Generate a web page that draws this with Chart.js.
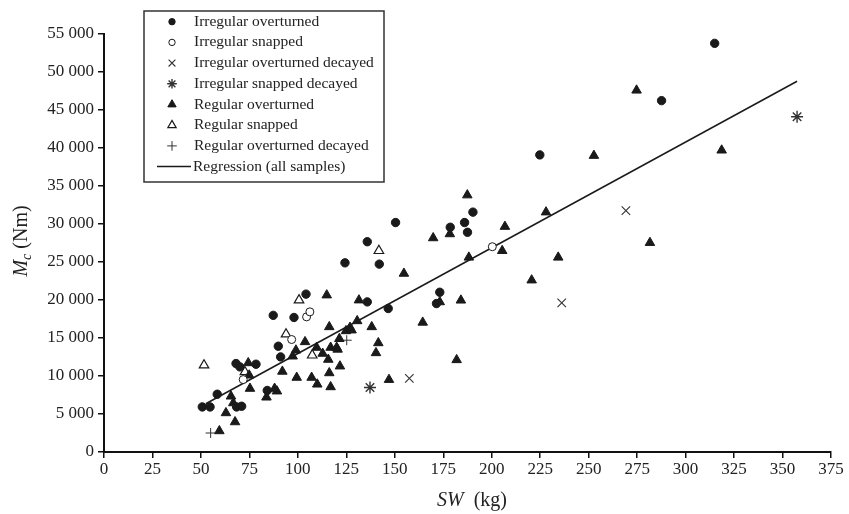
<!DOCTYPE html>
<html>
<head>
<meta charset="utf-8">
<script src="https://cdn.jsdelivr.net/npm/chart.js@4.4.1/dist/chart.umd.min.js"></script>
<style>
  html, body { margin: 0; padding: 0; background: #fff; }
  #wrap { width: 849px; height: 514px; }
</style>
</head>
<body>
<div id="wrap"><canvas id="mc"></canvas></div>
<script>
// ---- data: [SW (kg), Mc (Nm)] ----
const irregularOverturned = [
  [50.7, 5930], [54.7, 5930], [58.4, 7600], [68.1, 11640], [70.1, 11200], [78.4, 11550],
  [68.4, 5930], [71.0, 6020], [84.2, 8100], [87.3, 17980], [89.9, 13920], [91.1, 12510],
  [98.0, 17700], [104.2, 20770], [124.3, 24890], [135.8, 19750], [135.8, 27670],
  [142.0, 24720], [146.6, 18880], [150.4, 30190], [171.5, 19530], [173.2, 21020],
  [178.6, 29570], [186.0, 30190], [187.5, 28910], [190.3, 31560], [224.8, 39090],
  [287.6, 46230], [315.0, 53770]
];
const irregularSnapped = [
  [71.8, 9530], [96.8, 14800], [104.5, 17780], [106.2, 18440], [200.3, 27010]
];
const irregularOverturnedDecayed = [
  [157.5, 9690], [236.1, 19610], [269.2, 31770]
];
const irregularSnappedDecayed = [
  [137.2, 8480], [357.5, 44120]
];
const regularOverturned = [
  [59.5, 2770], [62.9, 5140], [67.6, 3950], [65.5, 7330], [66.7, 6450], [74.4, 11720],
  [74.9, 10100], [75.3, 8350], [83.8, 7200], [88.0, 8350], [89.2, 8000], [92.0, 10600],
  [99.4, 9800], [99.0, 13390], [97.3, 12600], [103.7, 14490], [107.1, 9800], [110.0, 8910],
  [109.7, 13750], [112.8, 12960], [115.7, 12170], [114.9, 20640], [116.2, 16460],
  [116.9, 13750], [120.0, 13750], [116.2, 10400], [116.9, 8560], [121.7, 11290],
  [121.4, 14900], [120.5, 13500], [124.8, 15930], [126.9, 16380], [127.7, 16030],
  [130.6, 17250], [131.5, 19980], [138.1, 16460], [141.5, 14350], [140.3, 13040],
  [147.0, 9520], [154.7, 23490], [164.4, 17050], [169.8, 28160], [173.2, 19740],
  [178.4, 28690], [181.9, 12120], [184.1, 19960], [187.4, 33800], [188.2, 25610],
  [205.4, 26480], [206.8, 29660], [220.6, 22610], [228.0, 31560], [234.3, 25610],
  [252.7, 39000], [274.7, 47590], [281.6, 27540], [318.6, 39700]
];
const regularSnapped = [
  [51.6, 11420], [72.7, 10530], [93.9, 15500], [100.6, 19980], [107.4, 12730], [141.8, 26480]
];
const regularOverturnedDecayed = [
  [55.0, 2500], [125.2, 14710]
];
// regression line end points
const regressionLine = [
  [52.5, 6350], [357.5, 48780]
];

const xTicksMax = 375;
const yTicksMax = 55000;

const INK = '#1a1a1a';
const SERIF = '"Liberation Serif", "Times New Roman", serif';

function pts(arr) {
  return arr.map(p => ({ x: p[0], y: p[1] }));
}

const datasets = [
  { label: 'Irregular overturned', data: pts(irregularOverturned), pointStyle: 'circle',
    pointRadius: 4.2, backgroundColor: INK, borderColor: INK, borderWidth: 1 },
  { label: 'Irregular snapped', data: pts(irregularSnapped), pointStyle: 'circle',
    pointRadius: 4, backgroundColor: '#fff', borderColor: INK, borderWidth: 1 },
  { label: 'Irregular overturned decayed', data: pts(irregularOverturnedDecayed), pointStyle: 'crossRot',
    pointRadius: 6, backgroundColor: INK, borderColor: '#333', borderWidth: 1.1 },
  { label: 'Irregular snapped decayed', data: pts(irregularSnappedDecayed), pointStyle: 'star',
    pointRadius: 6, backgroundColor: INK, borderColor: '#333', borderWidth: 1.4 },
  { label: 'Regular overturned', data: pts(regularOverturned), pointStyle: 'triangle',
    pointRadius: 5.5, backgroundColor: INK, borderColor: INK, borderWidth: 1 },
  { label: 'Regular snapped', data: pts(regularSnapped), pointStyle: 'triangle',
    pointRadius: 5.5, backgroundColor: '#fff', borderColor: INK, borderWidth: 1.2 },
  { label: 'Regular overturned decayed', data: pts(regularOverturnedDecayed), pointStyle: 'cross',
    pointRadius: 5, backgroundColor: INK, borderColor: '#333', borderWidth: 1 },
  { label: 'Regression (all samples)', type: 'line', data: pts(regressionLine), showLine: true,
    pointRadius: 0, borderColor: INK, borderWidth: 1.5, fill: false, isLine: true }
];

// legend box drawn inside the plot, as in the figure
const boxLegend = {
  id: 'boxLegend',
  afterDraw(chart) {
    const ctx = chart.ctx;
    ctx.save();
    ctx.strokeStyle = '#333';
    ctx.lineWidth = 1.5;
    ctx.fillStyle = '#fff';
    ctx.fillRect(144, 11, 240, 171);
    ctx.strokeRect(144, 11, 240, 171);
    ctx.font = '15.5px ' + SERIF;
    ctx.textBaseline = 'middle';
    chart.data.datasets.forEach((ds, i) => {
      const y = 21.7 + i * 20.7;
      ctx.fillStyle = ds.backgroundColor || INK;
      ctx.strokeStyle = ds.borderColor;
      ctx.lineWidth = ds.borderWidth;
      if (ds.isLine) {
        ctx.beginPath();
        ctx.moveTo(157, y);
        ctx.lineTo(191, y);
        ctx.stroke();
      } else {
        const r = ds.pointStyle === 'circle' ? 3.2 : 4.8;
        Chart.helpers.drawPoint(ctx, { pointStyle: ds.pointStyle, rotation: 0, radius: r, borderWidth: ds.borderWidth }, 172, y);
      }
      ctx.fillStyle = '#222';
      ctx.fillText(ds.label, ds.isLine ? 193 : 194, y);
    });
    ctx.restore();
  }
};

// axis titles with italic symbol and subscript
const axisTitles = {
  id: 'axisTitles',
  afterDraw(chart) {
    const ctx = chart.ctx;
    ctx.save();
    ctx.fillStyle = '#222';
    ctx.textBaseline = 'alphabetic';

    // x title: SW (kg)
    const big = '20px ' + SERIF;
    const bigIt = 'italic 20px ' + SERIF;
    ctx.font = bigIt;
    const wSW = ctx.measureText('SW').width;
    ctx.font = big;
    const wKg = ctx.measureText('  (kg)').width;
    let x0 = 472 - (wSW + wKg) / 2;
    ctx.font = bigIt;
    ctx.fillText('SW', x0, 506);
    ctx.font = big;
    ctx.fillText('  (kg)', x0 + wSW, 506);

    // y title: Mc (Nm), rotated
    ctx.translate(27, 241);
    ctx.rotate(-Math.PI / 2);
    ctx.font = bigIt;
    const wM = ctx.measureText('M').width;
    ctx.font = 'italic 14px ' + SERIF;
    const wc = ctx.measureText('c').width;
    ctx.font = big;
    const wN = ctx.measureText(' (Nm)').width;
    let s = -(wM + wc + wN) / 2;
    ctx.font = bigIt;
    ctx.fillText('M', s, 0);
    ctx.font = 'italic 14px ' + SERIF;
    ctx.fillText('c', s + wM, 4);
    ctx.font = big;
    ctx.fillText(' (Nm)', s + wM + wc, 0);
    ctx.restore();
  }
};

const ctx = document.getElementById('mc').getContext('2d');
const mcChart = new Chart(ctx, {
  type: 'scatter',
  data: { datasets: datasets },
  options: {
    responsive: true,
    maintainAspectRatio: false,
    animation: false,
    layout: { padding: { left: 0, right: 18, top: 34, bottom: 0 } },
    plugins: {
      legend: { display: false },
      tooltip: { enabled: false }
    },
    scales: {
      x: {
        type: 'linear',
        min: 0,
        max: xTicksMax,
        afterFit: s => { s.height = 62; },
        ticks: { stepSize: 25, color: '#222', padding: 1, maxRotation: 0,
                 font: { family: SERIF, size: 17 } },
        grid: { display: true, drawOnChartArea: false, drawTicks: true, tickLength: 6,
                color: '#111', lineWidth: 1.5 },
        border: { display: true, color: '#111', width: 2 }
      },
      y: {
        type: 'linear',
        min: 0,
        max: yTicksMax,
        afterFit: s => { s.width = 104; },
        ticks: { stepSize: 5000, color: '#222', padding: 4,
                 font: { family: SERIF, size: 17 },
                 callback: v => String(v).replace(/\B(?=(\d{3})+(?!\d))/g, ' ') },
        grid: { display: true, drawOnChartArea: false, drawTicks: true, tickLength: 6,
                color: '#111', lineWidth: 1.5 },
        border: { display: true, color: '#111', width: 2 }
      }
    }
  },
  plugins: [boxLegend, axisTitles]
});
</script>
</body>
</html>
